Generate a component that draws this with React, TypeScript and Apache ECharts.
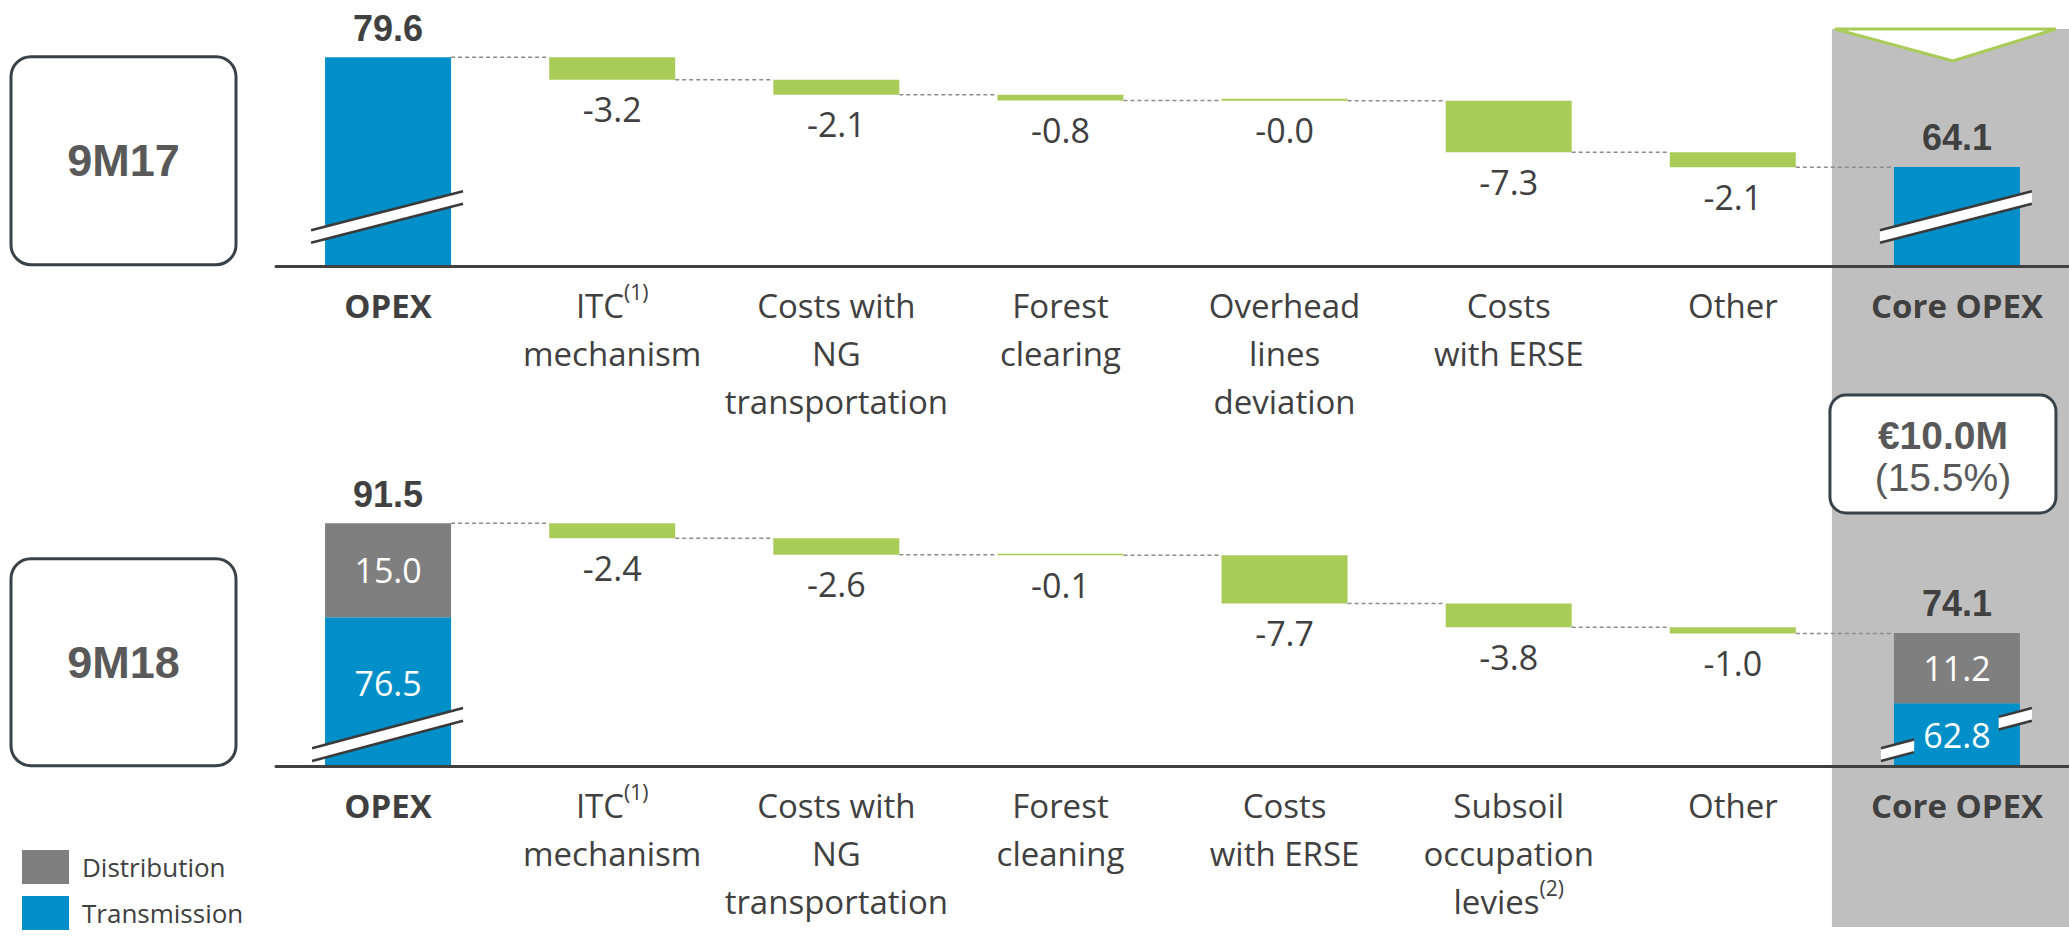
import React, { useEffect, useRef } from "react";
import * as echarts from "echarts";

// ---------- data ----------
const categories9M17 = [
  "OPEX",
  "ITC(1)\nmechanism",
  "Costs with\nNG\ntransportation",
  "Forest\nclearing",
  "Overhead\nlines\ndeviation",
  "Costs\nwith ERSE",
  "Other",
  "Core OPEX",
];
const categories9M18 = [
  "OPEX",
  "ITC(1)\nmechanism",
  "Costs with\nNG\ntransportation",
  "Forest\ncleaning",
  "Costs\nwith ERSE",
  "Subsoil\noccupation\nlevies(2)",
  "Other",
  "Core OPEX",
];

const opex9M17 = 79.6;
const deltas9M17 = [-3.2, -2.1, -0.8, -0.04, -7.3, -2.1];
const core9M17 = 64.1;

const opexTransmission9M18 = 76.5;
const opexDistribution9M18 = 15.0;
const opexTotal9M18 = 91.5;
const deltas9M18 = [-2.4, -2.6, -0.1, -7.7, -3.8, -1.0];
const coreTransmission9M18 = 62.8;
const coreDistribution9M18 = 11.2;
const coreTotal9M18 = 74.1;

const periodLabels = ["9M17", "9M18"];
const changeValue = "€10.0M";
const changePct = "(15.5%)";
const legendNames = ["Distribution", "Transmission"];

// ---------- styles ----------
const BLUE = "#008FC8";
const GREEN = "#A9CC58";
const GREY_BAR = "#7F7F7F";
const PANEL = "#BFBFBF";
const DARK = "#404040";
const BOX = "#37424A";
const SANS = '"Open Sans", Lato, sans-serif';
const ARIAL = '"Liberation Sans", Arial, sans-serif';
const FS = 33;
const BAR_W = 126;
const MIN_TOP = 50;
const MIN_BOT = 52.66;

const running = (start: number, deltas: number[]) => {
  const out: number[] = [];
  let r = start;
  for (const d of deltas) {
    r += d;
    out.push(r);
  }
  return out;
};
const run1 = running(opex9M17, deltas9M17);
const run2 = running(opexTotal9M18, deltas9M18);
const dashes = (n: number) => Array.from({ length: n }, () => "-" as any);

const fmtCat = (v: string) => {
  if (v === "OPEX" || v === "Core OPEX") return `{b|${v}}`;
  return v
    .split("\n")
    .map((line) => line.replace(/\((\d)\)/, "{sup|($1)}"))
    .join("\n");
};

const xAxisCommon = (gridIndex: number, data: string[]) => ({
  gridIndex,
  type: "category",
  data,
  z: 3,
  axisLine: { onZero: false, lineStyle: { color: DARK, width: 3 } },
  axisTick: { show: false },
  axisLabel: {
    interval: 0,
    margin: 15,
    color: DARK,
    fontFamily: SANS,
    fontSize: FS,
    lineHeight: 48,
    formatter: fmtCat,
    rich: {
      b: { fontFamily: SANS, fontSize: FS, fontWeight: "bold", color: DARK, lineHeight: 48 },
      sup: { fontFamily: SANS, fontSize: 21, color: DARK, lineHeight: 22, verticalAlign: "top" },
    },
  },
});

const totalLabel = {
  show: true,
  position: "top",
  distance: 11,
  fontFamily: ARIAL,
  fontWeight: "bold",
  fontSize: 36,
  lineHeight: 36,
  color: DARK,
};
const deltaLabel = (deltas: number[]) => ({
  show: true,
  position: "bottom",
  distance: 12,
  fontFamily: SANS,
  fontSize: FS + 1,
  lineHeight: 35,
  color: DARK,
  formatter: (p: any) => deltas[p.dataIndex - 1].toFixed(1),
});
const insideLabel = {
  show: true,
  position: "inside",
  fontFamily: SANS,
  fontSize: FS + 1,
  color: "#FFFFFF",
  formatter: (p: any) => Number(p.value).toFixed(1),
};

const legendCommon = {
  orient: "vertical",
  left: 22,
  icon: "rect",
  itemWidth: 47,
  itemHeight: 34,
  selectedMode: false,
  padding: 0,
  textStyle: { fontFamily: SANS, fontSize: 26, color: DARK, padding: [0, 0, 0, 8], lineHeight: 30 },
};

const option: any = {
  animation: false,
  backgroundColor: "#FFFFFF",
  grid: [
    { left: 276, width: 1806, top: 19, height: 247.7 },
    { left: 276, width: 1806, top: 438.7, height: 328 },
  ],
  xAxis: [xAxisCommon(0, categories9M17), xAxisCommon(1, categories9M18)],
  yAxis: [
    { gridIndex: 0, type: "value", min: MIN_TOP, max: 85, show: false },
    { gridIndex: 1, type: "value", min: MIN_BOT, max: 105, show: false },
  ],
  legend: [
    { ...legendCommon, data: [legendNames[0]], top: 850 },
    { ...legendCommon, data: [legendNames[1]], top: 896 },
  ],
  series: [
    // ----- 9M17 -----
    {
      type: "bar", xAxisIndex: 0, yAxisIndex: 0, stack: "a", barWidth: BAR_W, silent: true,
      itemStyle: { color: "transparent" },
      data: [0, ...run1, 0],
    },
    {
      name: "Transmission", type: "bar", xAxisIndex: 0, yAxisIndex: 0, stack: "a", barWidth: BAR_W, silent: true,
      itemStyle: { color: BLUE },
      label: { ...totalLabel, formatter: (p: any) => Number(p.value).toFixed(1) },
      data: [opex9M17, ...dashes(6), core9M17],
    },
    {
      type: "bar", xAxisIndex: 0, yAxisIndex: 0, stack: "a", barWidth: BAR_W, silent: true, barMinHeight: 2,
      itemStyle: { color: GREEN },
      label: deltaLabel(deltas9M17),
      data: ["-", ...deltas9M17.map((d) => -d), "-"],
    },
    // ----- 9M18 -----
    {
      type: "bar", xAxisIndex: 1, yAxisIndex: 1, stack: "b", barWidth: BAR_W, silent: true,
      itemStyle: { color: "transparent" },
      data: [0, ...run2, 0],
    },
    {
      name: "Transmission", type: "bar", xAxisIndex: 1, yAxisIndex: 1, stack: "b", barWidth: BAR_W, silent: true,
      itemStyle: { color: BLUE },
      label: insideLabel,
      data: [
        { value: opexTransmission9M18, label: { offset: [0, -9] } },
        ...dashes(6),
        coreTransmission9M18,
      ],
    },
    {
      name: "Distribution", type: "bar", xAxisIndex: 1, yAxisIndex: 1, stack: "b", barWidth: BAR_W, silent: true,
      itemStyle: { color: GREY_BAR },
      label: insideLabel,
      data: [opexDistribution9M18, ...dashes(6), coreDistribution9M18],
    },
    {
      type: "bar", xAxisIndex: 1, yAxisIndex: 1, stack: "b", barWidth: BAR_W, silent: true,
      itemStyle: { color: "transparent" },
      label: {
        ...totalLabel,
        formatter: (p: any) => (p.dataIndex === 0 ? opexTotal9M18 : coreTotal9M18).toFixed(1),
      },
      data: [0, ...dashes(6), 0],
    },
    {
      type: "bar", xAxisIndex: 1, yAxisIndex: 1, stack: "b", barWidth: BAR_W, silent: true, barMinHeight: 1.5,
      itemStyle: { color: GREEN },
      label: deltaLabel(deltas9M18),
      data: ["-", ...deltas9M18.map((d) => -d), "-"],
    },
  ],
};

function buildGraphics(chart: any) {
  const px = (g: number, x: number, y: number) => chart.convertToPixel({ gridIndex: g }, [x, y]) as number[];
  const els: any[] = [];

  // grey "Core OPEX" panel with triangle
  const [coreX] = px(0, 7, MIN_TOP);
  const panelLeft = coreX - 125;
  els.push({
    type: "rect", z: -5, silent: true,
    shape: { x: panelLeft, y: 29, width: 2069 - panelLeft + 5, height: 898 },
    style: { fill: PANEL },
  });
  els.push({
    type: "polygon", z: 50, silent: true,
    shape: { points: [[panelLeft + 3, 29], [coreX + 99, 29], [coreX - 4, 61]] },
    style: { fill: "#FFFFFF", stroke: GREEN, lineWidth: 3 },
  });

  // period boxes
  const axisTop = px(0, 0, MIN_TOP)[1];
  const axisBot = px(1, 0, MIN_BOT)[1];
  const boxes = [
    { y: axisTop - 210, h: 208, t: periodLabels[0] },
    { y: axisBot - 208, h: 207, t: periodLabels[1] },
  ];
  for (const b of boxes) {
    els.push({
      type: "rect", z: 50, silent: true,
      shape: { x: 11, y: b.y, width: 225, height: b.h, r: 20 },
      style: { fill: "#FFFFFF", stroke: BOX, lineWidth: 3 },
    });
    els.push({
      type: "text", z: 51, silent: true, x: 123.5, y: b.y + b.h / 2,
      style: { text: b.t, fill: "#595959", font: `bold 45px ${ARIAL}`, align: "center", verticalAlign: "middle" },
    });
  }

  // change box
  const cbLeft = coreX - 127;
  const cbW = 226;
  els.push({
    type: "rect", z: 50, silent: true,
    shape: { x: cbLeft, y: 395, width: cbW, height: 118, r: 16 },
    style: { fill: "#FFFFFF", stroke: BOX, lineWidth: 3 },
  });
  els.push({
    type: "text", z: 51, silent: true, x: cbLeft + cbW / 2, y: 435,
    style: { text: changeValue, fill: "#595959", font: `bold 39px ${ARIAL}`, align: "center", verticalAlign: "middle" },
  });
  els.push({
    type: "text", z: 51, silent: true, x: cbLeft + cbW / 2, y: 477,
    style: { text: changePct, fill: "#595959", font: `39px ${ARIAL}`, align: "center", verticalAlign: "middle" },
  });

  // dashed connectors
  const connectors = (g: number, levels: number[]) => {
    for (let i = 0; i < levels.length; i++) {
      const [x0, y] = px(g, i, levels[i]);
      const [x1] = px(g, i + 1, levels[i]);
      els.push({
        type: "line", z: 5, silent: true,
        shape: { x1: x0 + BAR_W / 2, y1: y, x2: x1 - BAR_W / 2, y2: y },
        style: { stroke: "#8C8C8C", lineWidth: 1.5, lineDash: [4, 3] },
      });
    }
  };
  connectors(0, [opex9M17, ...run1]);
  connectors(1, [opexTotal9M18, ...run2]);

  // axis break marks
  const breakBand = (
    c: number, A: number, dxL: number, dxR: number, yL: number, yR: number, th: number,
    segs: number[][]
  ) => {
    for (const [t0, t1] of segs) {
      const xa = c + dxL + t0 * (dxR - dxL);
      const xb = c + dxL + t1 * (dxR - dxL);
      const ya = A - (yL + t0 * (yR - yL));
      const yb = A - (yL + t1 * (yR - yL));
      els.push({
        type: "polygon", z: 20, silent: true,
        shape: { points: [[xa, ya], [xb, yb], [xb, yb - th], [xa, ya - th]] },
        style: { fill: "#FFFFFF" },
      });
      els.push({
        type: "line", z: 21, silent: true,
        shape: { x1: xa, y1: ya, x2: xb, y2: yb },
        style: { stroke: "#3A3A3A", lineWidth: 2.5 },
      });
      els.push({
        type: "line", z: 21, silent: true,
        shape: { x1: xa, y1: ya - th, x2: xb, y2: yb - th },
        style: { stroke: "#3A3A3A", lineWidth: 2.5 },
      });
    }
  };
  const opexX = px(0, 0, MIN_TOP)[0];
  breakBand(opexX, axisTop, -77, 75, 24, 63, 12.5, [[0, 1]]);
  breakBand(coreX, axisTop, -77, 75, 24, 63, 12.5, [[0, 1]]);
  breakBand(opexX, axisBot, -76, 75, 5.7, 46, 12.7, [[0, 1]]);
  breakBand(coreX, axisBot, -76, 75, 5.7, 46, 12.7, [[0, 0.22], [0.78, 1]]);

  return els;
}

export default function App() {
  const ref = useRef<HTMLDivElement>(null);
  useEffect(() => {
    document.body.style.margin = "0";
    const chart = echarts.init(ref.current!, undefined, { renderer: "svg" });
    chart.setOption(option);
    chart.setOption({ graphic: { elements: buildGraphics(chart) } });
    return () => chart.dispose();
  }, []);
  return <div ref={ref} style={{ width: 2069, height: 941 }} />;
}
